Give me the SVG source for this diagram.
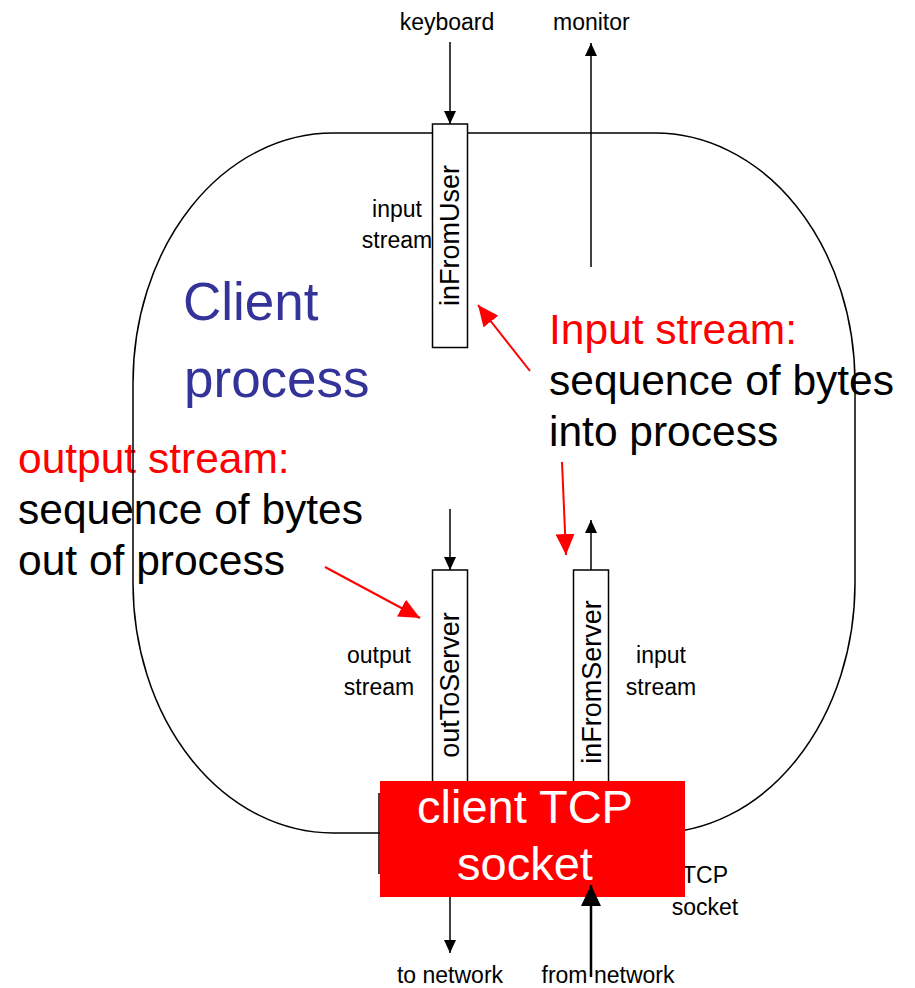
<svg xmlns="http://www.w3.org/2000/svg" width="915" height="988" viewBox="0 0 915 988">
<style>
text{font-family:"Liberation Sans",Arial,sans-serif}
.sm{font-size:23px;fill:#000}
.big{font-size:42.5px}
.blk{fill:#000}
.red{fill:#FF0000}
.blue{font-size:53px;fill:#333399}
.box{fill:#fff;stroke:#000;stroke-width:1.5}
.vt{font-size:27px;fill:#000;text-anchor:middle}
.ln{stroke:#000;stroke-width:1.5;fill:none}
.rl{stroke:#FF0000;stroke-width:2;fill:none}
</style>
<defs>
<marker id="ah" viewBox="0 0 13 12" refX="13" refY="6" markerWidth="13" markerHeight="12" markerUnits="userSpaceOnUse" orient="auto"><path d="M0,0 L13,6 L0,12 z" fill="#000"/></marker>
<marker id="ahb" viewBox="0 0 21 20" refX="21" refY="10" markerWidth="21" markerHeight="20" markerUnits="userSpaceOnUse" orient="auto"><path d="M0,0 L21,10 L0,20 z" fill="#000"/></marker>
<marker id="ahr" viewBox="0 0 21 19" refX="21" refY="9.5" markerWidth="21" markerHeight="19" markerUnits="userSpaceOnUse" orient="auto"><path d="M0,0 L21,9.5 L0,19 z" fill="#FF0000"/></marker>
</defs>
<rect width="915" height="988" fill="#fff"/>

<g id="texts">
<text class="sm" x="447" y="30" text-anchor="middle">keyboard</text>
<text class="sm" x="553" y="30">monitor</text>
<text class="blue" x="183" y="320">Client</text>
<text class="blue" x="184" y="397">process</text>
<text class="big red" x="549" y="344">Input stream:</text>
<text class="big blk" x="549" y="395">sequence of bytes</text>
<text class="big blk" x="549" y="446">into process</text>
<text class="big red" x="18" y="473">output stream:</text>
<text class="big blk" x="18" y="524">sequence of bytes</text>
<text class="big blk" x="18" y="575">out of process</text>
<text class="sm" x="397" y="217" text-anchor="middle">input</text>
<text class="sm" x="397" y="248" text-anchor="middle">stream</text>
<text class="sm" x="379" y="663" text-anchor="middle">output</text>
<text class="sm" x="379" y="695" text-anchor="middle">stream</text>
<text class="sm" x="661" y="663" text-anchor="middle">input</text>
<text class="sm" x="661" y="695" text-anchor="middle">stream</text>
<text class="sm" x="705" y="883" text-anchor="middle">TCP</text>
<text class="sm" x="705" y="915" text-anchor="middle">socket</text>
<text class="sm" x="450" y="983" text-anchor="middle">to network</text>
<text class="sm" x="608" y="983" text-anchor="middle">from network</text>
</g>

<g id="client-process">
<rect x="133" y="133" width="722" height="700" rx="200" ry="250" fill="none" stroke="#000" stroke-width="1.5"/>
</g>

<g id="inFromUser">
<rect class="box" x="432.5" y="124" width="35" height="223.5"/>
<text class="vt" transform="translate(459,235.5) rotate(-90)">inFromUser</text>
</g>

<g id="outToServer">
<rect class="box" x="432.5" y="570" width="35" height="220"/>
<text class="vt" transform="translate(459,685) rotate(-90)">outToServer</text>
</g>

<g id="inFromServer">
<rect class="box" x="573.5" y="570" width="35" height="220"/>
<text class="vt" transform="translate(600.5,682) rotate(-90)">inFromServer</text>
</g>

<g id="client-tcp-socket">
<line class="ln" x1="379" y1="793" x2="379" y2="874"/>
<rect x="380" y="781" width="305" height="116" fill="#FF0000"/>
<text x="525" y="823" font-size="47" fill="#fff" text-anchor="middle">client TCP</text>
<text x="525" y="880" font-size="47" fill="#fff" text-anchor="middle">socket</text>
</g>

<g id="connectors">
<line class="ln" x1="450" y1="42" x2="450" y2="124" marker-end="url(#ah)"/>
<line class="ln" x1="591" y1="267" x2="591" y2="43" marker-end="url(#ah)"/>
<line class="ln" x1="450" y1="509" x2="450" y2="570" marker-end="url(#ah)"/>
<line class="ln" x1="591" y1="570" x2="591" y2="520" marker-end="url(#ah)"/>
<line class="ln" x1="450" y1="897" x2="450" y2="953" marker-end="url(#ah)"/>
<line x1="591" y1="977" x2="591" y2="885" stroke="#000" stroke-width="2.5" marker-end="url(#ahb)"/>
<line class="rl" x1="530" y1="371" x2="478" y2="305" marker-end="url(#ahr)"/>
<line class="rl" x1="562" y1="462" x2="566" y2="555" marker-end="url(#ahr)"/>
<line class="rl" x1="325" y1="567" x2="420" y2="618" marker-end="url(#ahr)"/>
</g>
</svg>
